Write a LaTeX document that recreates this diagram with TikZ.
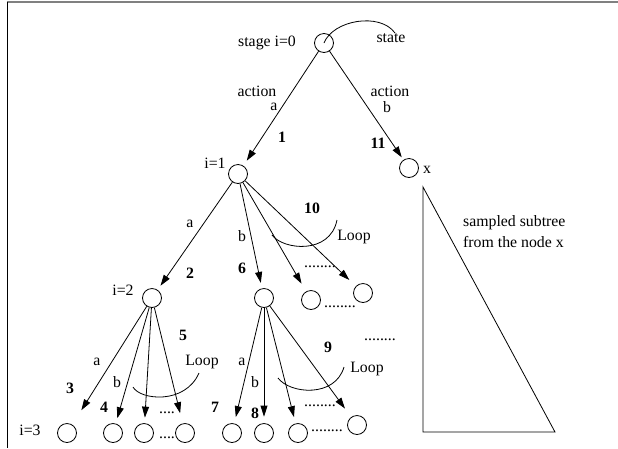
\documentclass[tikz,border=0pt]{standalone}
\usepackage{fontspec}
\setmainfont{Liberation Serif}
\usetikzlibrary{arrows.meta}
\begin{document}
\begin{tikzpicture}[x=1pt,y=-1pt,
  st/.style={circle,draw,line width=0.8pt,minimum size=19pt,inner sep=0pt},
  lbl/.style={inner sep=0pt,font=\fontsize{15.8}{19}\selectfont},
  num/.style={inner sep=0pt,font=\fontsize{15.8}{19}\selectfont\bfseries},
  dots/.style={inner sep=0pt,anchor=base,font=\fontsize{15.8}{19}\selectfont},
  arr/.style={line width=0.8pt,-{Triangle[length=11pt,width=7pt]}},
  ln/.style={line width=0.8pt}]
\useasboundingbox (0,0) rectangle (618,448);
% frame
\draw[gray,line width=1.5pt] (7,2) -- (618,2);
\draw[line width=1pt] (7,2) -- (7,448);

% tree nodes
\node[st] (root) at (324,43) {};
\node[st] (n1) at (238,174) {};
\node[st] (x) at (409,168) {};
\node[st] (n2) at (152,298) {};
\node[st] (n6) at (264,298) {};
\node[st] (n1c) at (311,300) {};
\node[st] (n1d) at (363,293) {};
\node[st] (b1) at (67,433) {};
\node[st] (b2) at (113,433) {};
\node[st] (b3) at (144,433) {};
\node[st] (b4) at (185,433) {};
\node[st] (b5) at (232,433) {};
\node[st] (b6) at (264,433) {};
\node[st] (b7) at (298,433) {};
\node[st] (b8) at (357,425) {};

% edges
\draw[arr,shorten >=6pt] (root) -- (n1);
\draw[arr,shorten >=3pt] (root) -- (x);
\draw[arr,shorten >=5pt] (n1) -- (n2);
\draw[arr,shorten >=5.5pt] (n1) -- (n6);
\draw[arr,shorten >=9pt] (n1) -- (n1c);
\draw[arr,shorten >=9pt] (n1) -- (n1d);
\draw[arr,shorten >=17pt] (n2) -- (b1);
\draw[arr,shorten >=5.5pt] (n2) -- (b2);
\draw[arr,shorten >=5.5pt] (n2) -- (b3);
\draw[arr,shorten >=10.5pt] (n2) -- (b4);
\draw[arr,shorten >=6.5pt] (n6) -- (b5);
\draw[arr,shorten >=6.5pt] (n6) -- (b6);
\draw[arr,shorten >=6.5pt] (n6) -- (b7);
\draw[arr,shorten >=10.5pt] (n6) -- (b8);

% state pointer and loop arcs
\draw[ln] (root.center) .. controls (333,20) and (380,12) .. (395,33);
\draw[ln] (272,235) .. controls (283,250) and (330,255) .. (337,220);
\draw[ln] (133,387) .. controls (140,400) and (185,405) .. (199,373);
\draw[ln] (278,378) .. controls (290,394) and (335,398) .. (344,367);

% subtree triangle
\draw[ln] (423,187) -- (423,432) -- (555,432) -- cycle;

% labels
\node[lbl] (s0) at (267,43) {stage i=0};
\node[lbl] (state) at (391,38) {state};
\node[lbl] (act1) at (257,91) {action};
\node[lbl] (acta) at (274,107) {a};
\node[lbl] (act2) at (390,91) {action};
\node[lbl] (actb) at (387,107) {b};
\node[num] (l1) at (282,137) {1};
\node[num] (l11) at (378,143) {11};
\node[lbl] (i1) at (215,163) {i=1};
\node[lbl] (xl) at (427,170) {x};
\node[lbl] (a1) at (190,224) {a};
\node[lbl] (b1l) at (242,236) {b};
\node[num] (l2) at (190,273) {2};
\node[num] (l6) at (242,268) {6};
\node[num] (l10) at (312,208) {10};
\node[lbl] (loop1) at (354,237) {Loop};
\node[lbl] (i2) at (123,290) {i=2};
\node[num] (l5) at (183,335) {5};
\node[lbl] (loop2) at (202,362) {Loop};
\node[lbl] (a2) at (97,362) {a};
\node[num] (l3) at (70,388) {3};
\node[lbl] (b2l) at (117,382) {b};
\node[num] (l4) at (104,407) {4};
\node[lbl] (a3) at (242,362) {a};
\node[lbl] (b3l) at (255,382) {b};
\node[num] (l7) at (215,407) {7};
\node[num] (l8) at (255,413) {8};
\node[num] (l9) at (328,347) {9};
\node[lbl] (loop3) at (367,369) {Loop};
\node[lbl] (i3) at (30,430) {i=3};
\node[lbl,anchor=west] (sub1) at (463,223) {sampled subtree};
\node[lbl,anchor=west] (sub2) at (463,242) {from the node x};

% ellipses
\node[dots] (d1) at (320,267) {........};
\node[dots] (d2) at (340,307) {........};
\node[dots] (d3) at (380,340) {........};
\node[dots] (d4) at (167,413) {....};
\node[dots] (d5) at (167,438) {....};
\node[dots] (d6) at (320,406) {........};
\node[dots] (d7) at (327,431) {........};
\end{tikzpicture}
\end{document}
